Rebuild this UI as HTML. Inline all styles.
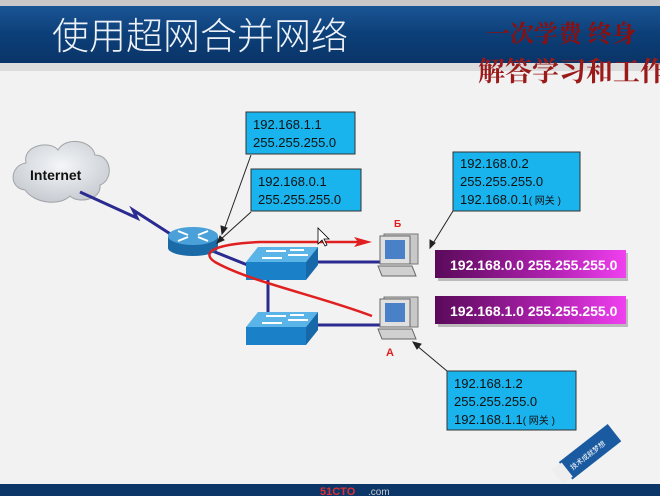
<!DOCTYPE html>
<html><head><meta charset="utf-8"><style>
body{margin:0;width:660px;height:496px;overflow:hidden;background:#f2f2f2;font-family:"Liberation Sans","Noto Sans CJK SC",sans-serif}
</style></head><body>
<svg width="660" height="496" viewBox="0 0 660 496" xmlns="http://www.w3.org/2000/svg" style="position:absolute;left:0;top:0">
<defs>
<linearGradient id="hd" x1="0" y1="0" x2="0" y2="1"><stop offset="0" stop-color="#1a5594"/><stop offset="0.5" stop-color="#0c3f78"/><stop offset="1" stop-color="#0a3468"/></linearGradient>
<linearGradient id="pp" x1="0" y1="0" x2="1" y2="0"><stop offset="0" stop-color="#5a0a5a"/><stop offset="0.6" stop-color="#b020b0"/><stop offset="1" stop-color="#f040f0"/></linearGradient>
<radialGradient id="cl" cx="0.5" cy="0.4" r="0.6"><stop offset="0" stop-color="#f4f6f8"/><stop offset="1" stop-color="#c8ccd2"/></radialGradient>
</defs>
<rect x="0" y="0" width="660" height="6" fill="#c8c8c8"/>
<rect x="0" y="6" width="660" height="57" fill="url(#hd)"/>
<rect x="0" y="63" width="660" height="8" fill="#dcdcdc"/>
<text x="52" y="49" font-size="37" fill="#eef2f8" font-family="Noto Sans CJK SC,sans-serif" font-weight="300">使用超网合并网络</text>
<text x="486" y="42" font-size="24" fill="#8a1010" font-family="Noto Serif CJK SC,serif" font-weight="bold">一次学费  终身</text>
<text x="478" y="81" font-size="27" fill="#9a1a1a" font-family="Noto Serif CJK SC,serif" font-weight="bold">解答学习和工作</text>
<rect x="0" y="484" width="660" height="12" fill="#0c3568"/>
<text x="320" y="495" font-size="11" fill="#e03030" font-weight="bold">51CTO</text><text x="368" y="495" font-size="10" fill="#ccc">.com</text>
<g transform="translate(565,470) rotate(-38)"><rect x="0" y="-10" width="62" height="22" fill="#1a5aa0"/><rect x="-10" y="-8" width="12" height="18" fill="#eee"/><text x="6" y="5" font-size="7" fill="#fff">技术成就梦想</text></g>
<path d="M25,190 C8,188 10,165 26,163 C22,145 50,140 58,150 C66,136 92,140 95,155 C112,155 114,180 100,185 C102,200 78,204 70,196 C60,206 35,204 25,190Z" fill="url(#cl)" stroke="#a0a4a8"/>
<text x="30" y="180" font-size="14" font-weight="bold" fill="#111">Internet</text>
<polyline points="80,192 137,218 133,210 172,235" fill="none" stroke="#2a2a90" stroke-width="3"/>
<line x1="210" y1="250" x2="250" y2="266" stroke="#2a2a90" stroke-width="3"/>
<line x1="268" y1="278" x2="268" y2="316" stroke="#2a2a90" stroke-width="3"/>
<line x1="315" y1="262" x2="382" y2="262" stroke="#2a2a90" stroke-width="3"/>
<line x1="315" y1="325" x2="382" y2="325" stroke="#2a2a90" stroke-width="3"/>
<ellipse cx="193" cy="248" rx="25" ry="8" fill="#1a6aa8"/>
<rect x="168" y="236" width="50" height="12" fill="#1a6aa8"/>
<ellipse cx="193" cy="236" rx="25" ry="9" fill="#4aa0d8"/>
<path d="M178,231 l10,4 M208,231 l-10,4 M178,241 l10,-4 M208,241 l-10,-4" stroke="#fff" stroke-width="2"/>
<g><polygon points="258,247 318,247 306,262 246,262" fill="#5ab4e8"/><rect x="246" y="262" width="60" height="18" fill="#1a80c8"/><polygon points="306,262 318,247 318,265 306,280" fill="#1668a8"/>
<path d="M262,258 h20 M266,251 h20 M288,255 h20 M290,250 h14" stroke="#fff" stroke-width="2"/></g>
<g transform="translate(0,65)"><polygon points="258,247 318,247 306,262 246,262" fill="#5ab4e8"/><rect x="246" y="262" width="60" height="18" fill="#1a80c8"/><polygon points="306,262 318,247 318,265 306,280" fill="#1668a8"/>
<path d="M262,258 h20 M266,251 h20 M288,255 h20 M290,250 h14" stroke="#fff" stroke-width="2"/></g>
<path d="M372,316 C320,296 250,282 215,262 C200,252 215,244 260,242 L365,242" fill="none" stroke="#e02020" stroke-width="2.5"/>
<polygon points="372,242 354,237 358,242 354,247" fill="#e02020"/>
<g id="pc"><rect x="384" y="234" width="34" height="30" fill="#c8c8c8" stroke="#777"/><rect x="380" y="236" width="30" height="28" fill="#e0e0e0" stroke="#666"/><rect x="385" y="240" width="20" height="19" fill="#4a80c8"/><polygon points="378,266 412,266 416,276 382,276" fill="#d0d0d0" stroke="#666"/></g>
<use href="#pc" transform="translate(0,63)"/>
<text x="394" y="227" font-size="10" font-weight="bold" fill="#e02020">Б</text>
<text x="386" y="356" font-size="11" font-weight="bold" fill="#e02020">A</text>
<g font-size="13" fill="#111">
<rect x="246" y="112" width="109" height="42" fill="#19b4ee" stroke="#333"/>
<text x="253" y="129">192.168.1.1</text><text x="253" y="147">255.255.255.0</text>
<rect x="251" y="169" width="110" height="42" fill="#19b4ee" stroke="#333"/>
<text x="258" y="186">192.168.0.1</text><text x="258" y="204">255.255.255.0</text>
<rect x="453" y="152" width="127" height="59" fill="#19b4ee" stroke="#333"/>
<text x="460" y="168">192.168.0.2</text><text x="460" y="186">255.255.255.0</text><text x="460" y="204">192.168.0.1<tspan font-size="10">( 网关 )</tspan></text>
<rect x="447" y="371" width="129" height="59" fill="#19b4ee" stroke="#333"/>
<text x="454" y="388">192.168.1.2</text><text x="454" y="406">255.255.255.0</text><text x="454" y="424">192.168.1.1<tspan font-size="10">( 网关 )</tspan></text>
</g>
<rect x="438" y="253" width="190" height="28" fill="#bbb"/>
<rect x="435" y="250" width="191" height="28" fill="url(#pp)"/>
<text x="450" y="270" font-size="14" font-weight="bold" fill="#fff">192.168.0.0 255.255.255.0</text>
<rect x="438" y="299" width="190" height="28" fill="#bbb"/>
<rect x="435" y="296" width="191" height="28" fill="url(#pp)"/>
<text x="450" y="316" font-size="14" font-weight="bold" fill="#fff">192.168.1.0 255.255.255.0</text>
<g stroke="#222" stroke-width="1" fill="#222">
<line x1="251" y1="155" x2="224" y2="230"/><polygon points="222,234 221,226 227,228"/>
<line x1="251" y1="212" x2="220" y2="240"/><polygon points="217,243 220,236 224,240"/>
<line x1="453" y1="211" x2="432" y2="245"/><polygon points="430,248 430,240 435,243"/>
<line x1="447" y1="371" x2="416" y2="345"/><polygon points="413,342 421,344 417,349"/>
</g>
<path d="M318,228 v16 l4,-4 l3,6 l2,-1 l-3,-6 h5z" fill="#fff" stroke="#000" stroke-width="0.8"/>
</svg>
</body></html>
